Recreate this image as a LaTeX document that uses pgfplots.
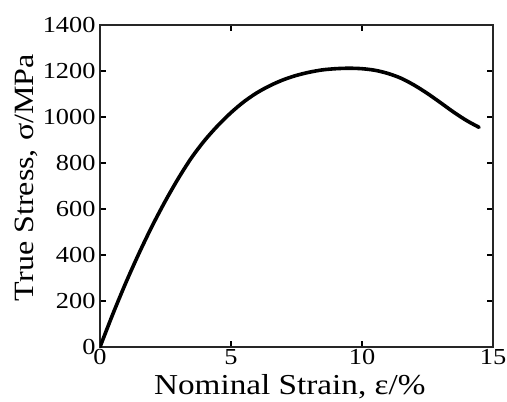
\documentclass[border=0pt]{standalone}
\usepackage{fontspec}
\setmainfont{Liberation Serif}[FakeStretch=1.15]
\usepackage{pgfplots}
\pgfplotsset{compat=1.18}

\begin{document}
\begin{tikzpicture}
\begin{axis}[
name=ax,
scale only axis,
width=393bp, height=322bp,
xmin=0, xmax=15, ymin=0, ymax=1400,
xtick={0,5,10,15},
ytick={0,200,...,1400},
/pgf/number format/assume math mode=true,
/pgf/number format/1000 sep={},
tick label style={font=\fontsize{23}{23}\selectfont},
xticklabel style={yshift=1bp},
yticklabel style={xshift=-1bp},
major tick length=6bp,
every tick/.style={black, line width=1.2bp},
axis line style={black!85, line width=1.3bp},
xlabel={Nominal Strain, ε/\%},
ylabel={True Stress, σ/MPa},
label style={font=\fontsize{29}{29}\selectfont},
xlabel style={at={(axis description cs:0.483,0)}, anchor=base, yshift=-47bp},
ylabel style={at={(axis description cs:-0.168,0.526)}, anchor=base, rotate=0, font=\fontsize{28}{28}\selectfont},
]
\addplot[black, line width=3.6bp, smooth, line cap=round] coordinates {
(0,0) (0.5,146) (1.0,283) (1.5,410) (2.0,528) (2.5,636) (3.0,735)
(3.5,824) (4.0,899) (4.5,963) (5.0,1019) (5.5,1067) (6.0,1106)
(6.5,1137) (7.0,1162) (7.5,1181) (8.0,1195) (8.5,1205) (9.0,1210)
(9.5,1212) (10.0,1210) (10.5,1203) (11.0,1189) (11.5,1168) (12.0,1138)
(12.5,1102) (13.0,1062) (13.5,1021) (14.0,984) (14.47,955)
};
\end{axis}
\pgfresetboundingbox
\path ([shift={(-100bp,-55bp)}]ax.south west) rectangle ([shift={(14bp,25bp)}]ax.north east);
\end{tikzpicture}
\end{document}
